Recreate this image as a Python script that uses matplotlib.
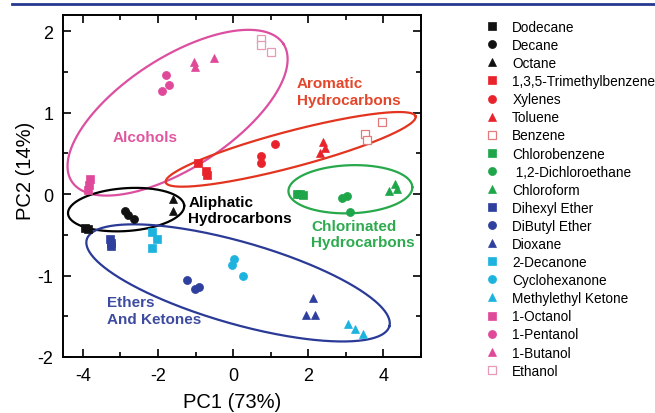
import numpy as np
import matplotlib
matplotlib.use("Agg")
import matplotlib.pyplot as plt
from matplotlib.lines import Line2D
from matplotlib.ticker import MultipleLocator

plt.rcParams['font.family'] = ['Liberation Sans', 'DejaVu Sans']

# ---- PCA scores (replicate sensor responses per compound) ----
compounds = ["Dodecane", "Decane", "Octane", "1,3,5-Trimethylbenzene", "Xylenes",
             "Toluene", "Benzene", "Chlorobenzene", " 1,2-Dichloroethane", "Chloroform",
             "Dihexyl Ether", "DiButyl Ether", "Dioxane", "2-Decanone", "Cyclohexanone",
             "Methylethyl Ketone", "1-Octanol", "1-Pentanol", "1-Butanol", "Ethanol"]

pc1 = [[-3.95, -3.87], [-2.88, -2.79, -2.64], [-1.61, -1.61],
       [-0.94, -0.73, -0.70], [1.12, 0.75, 0.75], [2.40, 2.32, 2.45],
       [3.96, 3.52, 3.56], [1.70, 1.78, 1.86], [2.90, 3.03, 3.12],
       [4.32, 4.14, 4.36], [-3.28, -3.26, -3.24], [-1.23, -1.01, -0.90],
       [2.12, 1.95, 2.19], [-2.17, -2.03, -2.17], [0.01, -0.04, 0.27],
       [3.05, 3.23, 3.46], [-3.80, -3.83, -3.87], [-1.79, -1.71, -1.90],
       [-1.03, -1.01, -0.51], [0.75, 0.75, 1.02]]

pc2 = [[-0.42, -0.43], [-0.21, -0.25, -0.30], [-0.06, -0.21],
       [0.38, 0.29, 0.23], [0.62, 0.47, 0.38], [0.64, 0.51, 0.57],
       [0.89, 0.74, 0.66], [0.00, 0.00, -0.01], [-0.05, -0.02, -0.22],
       [0.12, 0.04, 0.06], [-0.55, -0.60, -0.64], [-1.05, -1.16, -1.14],
       [-1.28, -1.48, -1.48], [-0.47, -0.55, -0.66], [-0.80, -0.87, -1.00],
       [-1.59, -1.66, -1.72], [0.18, 0.11, 0.05], [1.46, 1.34, 1.27],
       [1.62, 1.56, 1.67], [1.90, 1.83, 1.74]]

BLACK, RED, GREEN, NAVY, CYAN, PINK = "#111111", "#e8232b", "#1fa64a", "#2e3f9e", "#1db3df", "#e0499a"
colors = [BLACK] * 3 + [RED] * 4 + [GREEN] * 3 + [NAVY] * 3 + [CYAN] * 3 + [PINK] * 4
markers = ["s", "o", "^", "s", "o", "^", "s", "s", "o", "^",
           "s", "o", "^", "s", "o", "^", "s", "o", "^", "s"]
hollow = {"Benzene": "#e27a7a", "Ethanol": "#e69ab8"}

# ---- chemical-class outlines: centre, semi-axes (PC1 units), tilt (deg) ----
class_names = ["Alcohols", "Aromatic\nHydrocarbons", "Aliphatic\nHydrocarbons",
               "Chlorinated\nHydrocarbons", "Ethers\nAnd Ketones"]
class_colors = ["#dc4fa0", "#e2341f", "#000000", "#27a84a", "#2a3a96"]
class_text_colors = ["#e0559f", "#e4462c", "#000000", "#2eaa4f", "#3e4ca0"]
outline_center = [(-1.48, 1.00), (1.53, 0.55), (-2.85, -0.19), (3.12, 0.06), (0.13, -1.09)]
outline_axes = [(3.36, 1.47), (3.44, 0.48), (1.55, 0.57), (1.65, 0.64), (4.19, 1.09)]
outline_tilt = [33, 14.8, 4, 2, -16]
label_pos = [(-2.35, 0.70), (1.70, 1.26), (-1.19, -0.19), (2.08, -0.49), (-3.37, -1.43)]
label_ha = ["center", "left", "left", "left", "left"]

fig = plt.figure(figsize=(6.55, 4.14), dpi=100)
ax = fig.add_axes([63 / 655, 1 - 358 / 414, 358 / 655, 342 / 414])
ax.set_xlim(-4.53, 5.0)
ax.set_ylim(-2.0, 2.2)

# scatter of scores
handles = []
for name, xs, ys, c, m in zip(compounds, pc1, pc2, colors, markers):
    if name in hollow:
        kw = dict(mfc="white", mec=hollow[name], mew=0.9)
    else:
        kw = dict(mfc=c, mec=c, mew=0.5)
    ms = 5.8 if m == "o" else (6.2 if m == "^" else 5.4)
    ax.plot(xs, ys, ls="none", marker=m, ms=ms, zorder=3, **kw)
    handles.append(Line2D([], [], ls="none", marker=m, ms=ms, **kw))

# class outlines drawn with a visual (screen) tilt
p0 = ax.transData.transform((0, 0))
p1 = ax.transData.transform((1, 1))
sx, sy = p1[0] - p0[0], p1[1] - p0[1]
t = np.linspace(0, 2 * np.pi, 400)
for (cx, cy), (a, b), ang, col in zip(outline_center, outline_axes, outline_tilt, class_colors):
    th = np.deg2rad(ang)
    u, v = a * np.cos(t), b * np.sin(t)
    dx = u * np.cos(th) - v * np.sin(th)
    dy = u * np.sin(th) + v * np.cos(th)
    ax.plot(cx + dx, cy + dy * sx / sy, color=col, lw=1.6, zorder=2)

for name, (lx, ly), ha, col in zip(class_names, label_pos, label_ha, class_text_colors):
    ax.text(lx, ly, name, color=col, ha=ha, va="center", fontsize=11,
            fontweight="bold", linespacing=1.2, zorder=4)

# axes styling
ax.xaxis.set_minor_locator(MultipleLocator(1))
ax.yaxis.set_minor_locator(MultipleLocator(0.5))
ax.tick_params(which="both", direction="in", top=True, right=True, width=1.2,
               labelsize=13, pad=7)
ax.tick_params(which="major", length=6)
ax.tick_params(which="minor", length=3.5)
ax.set_xticks([-4, -2, 0, 2, 4])
ax.set_xticklabels(["-4", "-2", "0", "2", "4"])
ax.set_yticks([-2, -1, 0, 1, 2])
ax.set_yticklabels(["-2", "-1", "0", "1", "2"])
for sp in ax.spines.values():
    sp.set_linewidth(1.4)
ax.set_xlabel("PC1 (73%)", fontsize=14.5)
ax.set_ylabel("PC2 (14%)", fontsize=14.5)
ax.xaxis.set_label_coords(0.472, -0.103)
ax.yaxis.set_label_coords(-0.078, 0.547)

fig.legend(handles, compounds, loc="upper left", bbox_to_anchor=(485 / 655, 1 - 21 / 414),
           frameon=False, fontsize=9.8, handlelength=1.0, handletextpad=1.0,
           labelspacing=0.30, borderpad=0, borderaxespad=0)

# header rule
fig.add_artist(Line2D([12 / 655, 1.0], [1 - 4.5 / 414] * 2, transform=fig.transFigure,
                      color="#26388f", lw=2.0))

fig.savefig("out.png", dpi=100)
